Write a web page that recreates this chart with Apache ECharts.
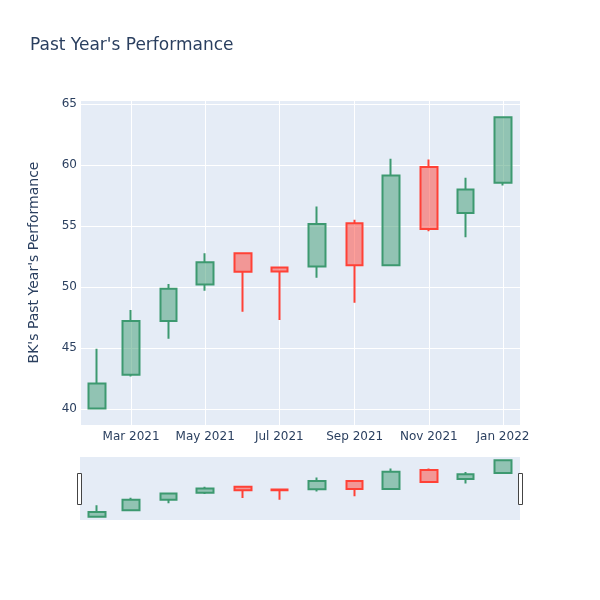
<!DOCTYPE html>
<html>
<head>
<meta charset="utf-8">
<script src="https://cdn.jsdelivr.net/npm/echarts@6/dist/echarts.min.js"></script>
<style>html,body{margin:0;padding:0;background:#fff}#c{width:600px;height:600px}</style>
</head>
<body>
<div id="c"></div>
<script>
const dates = ['2021-02-01','2021-03-01','2021-04-01','2021-05-01','2021-06-01','2021-07-01','2021-08-01','2021-09-01','2021-10-01','2021-11-01','2021-12-01','2022-01-01'];
const openVals  = [40.05, 42.80, 47.22, 50.21, 52.77, 51.60, 51.68, 55.22, 51.79, 59.83, 56.07, 58.55];
const closeVals = [42.10, 47.22, 49.86, 52.04, 51.25, 51.27, 55.17, 51.79, 59.14, 54.76, 58.00, 63.91];
const lowVals   = [40.00, 42.67, 45.75, 49.70, 47.98, 47.30, 50.76, 48.71, 51.75, 54.57, 54.08, 58.33];
const highVals  = [44.93, 48.12, 50.24, 52.77, 52.80, 51.68, 56.61, 55.52, 60.51, 60.45, 58.95, 63.99];
const monthNames = ['Jan','Feb','Mar','Apr','May','Jun','Jul','Aug','Sep','Oct','Nov','Dec'];

const candleData = dates.map((d, i) => [d, openVals[i], closeVals[i], lowVals[i], highVals[i]]);
const FONT = 'DejaVu Sans';
const TXT = '#2a3f5f';
const xMin = '2021-01-18', xMax = '2022-01-15';
const yMin = 38.69, yMax = 65.33;

const candleStyle = {
  color: 'rgba(61,153,112,0.5)',
  color0: 'rgba(255,65,54,0.5)',
  borderColor: '#3D9970',
  borderColor0: '#FF4136',
  borderWidth: 2
};

const chart = echarts.init(document.getElementById('c'), null, {renderer: 'canvas'});
chart.setOption({
  animation: false,
  backgroundColor: '#fff',
  title: {
    text: "Past Year's Performance",
    left: 30, top: 37, padding: 0,
    textStyle: {fontFamily: FONT, fontSize: 17, fontWeight: 'normal', color: TXT}
  },
  grid: [
    {left: 80, right: 80, top: 100, height: 325, show: true, backgroundColor: '#E5ECF6', borderWidth: 0},
    {left: 80, right: 80, top: 457, height: 63, show: true, backgroundColor: '#E5ECF6', borderWidth: 0}
  ],
  xAxis: [
    {
      type: 'time', gridIndex: 0, min: xMin, max: xMax, splitNumber: 5,
      axisLine: {show: false}, axisTick: {show: false},
      splitLine: {show: true, lineStyle: {color: '#ffffff', width: 1}},
      axisLabel: {
        fontFamily: FONT, fontSize: 12, color: TXT, margin: 6,
        formatter: function (v) {
          const d = new Date(v);
          if (d.getDate() !== 1) return '';
          return monthNames[d.getMonth()] + ' ' + d.getFullYear();
        }
      }
    },
    {
      type: 'time', gridIndex: 1, min: xMin, max: xMax,
      axisLine: {show: false}, axisTick: {show: false}, splitLine: {show: false}, axisLabel: {show: false}
    }
  ],
  yAxis: [
    {
      type: 'value', gridIndex: 0, min: yMin, max: yMax, splitNumber: 5,
      name: "BK's Past Year's Performance", nameLocation: 'middle', nameGap: 39,
      nameTextStyle: {fontFamily: FONT, fontSize: 14, color: TXT},
      axisLine: {show: false}, axisTick: {show: false},
      splitLine: {show: true, lineStyle: {color: '#ffffff', width: 1}},
      axisLabel: {
        fontFamily: FONT, fontSize: 12, color: TXT, margin: 3,
        formatter: function (v) {
          return Math.abs(v - Math.round(v / 5) * 5) < 1e-6 ? String(Math.round(v)) : '';
        }
      }
    },
    {
      type: 'value', gridIndex: 1, min: yMin, max: yMax,
      axisLine: {show: false}, axisTick: {show: false}, splitLine: {show: false}, axisLabel: {show: false}
    }
  ],
  series: [
    {
      type: 'candlestick', xAxisIndex: 0, yAxisIndex: 0, barWidth: 17,
      encode: {x: 0, y: [1, 2, 3, 4]},
      data: candleData, itemStyle: candleStyle
    },
    {
      type: 'candlestick', xAxisIndex: 1, yAxisIndex: 1, barWidth: 17,
      encode: {x: 0, y: [1, 2, 3, 4]},
      data: candleData, itemStyle: candleStyle, silent: true
    }
  ],
  graphic: [
    {type: 'rect', left: 77, top: 473, shape: {width: 4, height: 31}, style: {fill: '#fff', stroke: '#444', lineWidth: 1}},
    {type: 'rect', left: 518, top: 473, shape: {width: 4, height: 31}, style: {fill: '#fff', stroke: '#444', lineWidth: 1}}
  ]
});
</script>
</body>
</html>
